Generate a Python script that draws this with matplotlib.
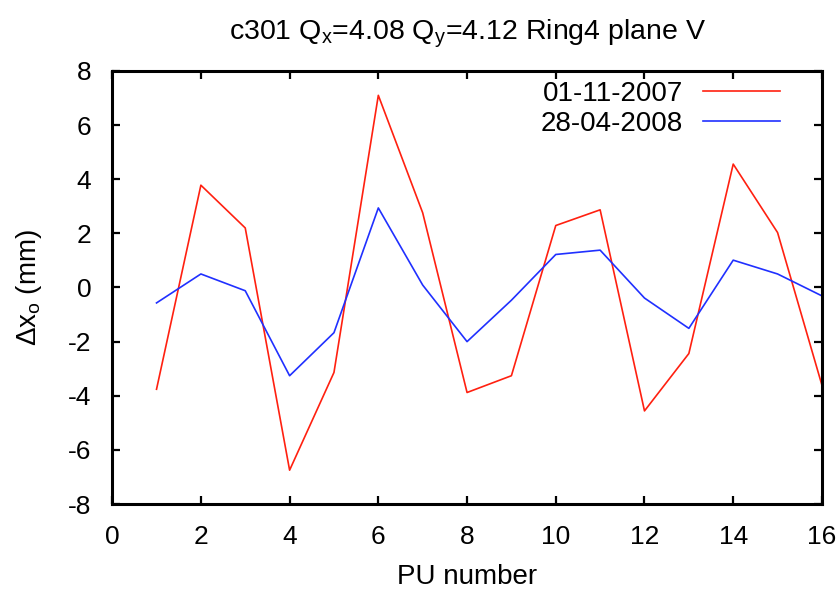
import matplotlib
matplotlib.use("Agg")
import matplotlib.pyplot as plt

pu = list(range(1, 17))
red_2007 = [-3.76, 3.78, 2.2, -6.75, -3.14, 7.1, 2.76, -3.88,
            -3.26, 2.29, 2.87, -4.56, -2.44, 4.56, 2.03, -3.61]
blue_2008 = [-0.57, 0.5, -0.12, -3.26, -1.67, 2.94, 0.09, -2.0,
             -0.47, 1.22, 1.38, -0.39, -1.51, 1.01, 0.5, -0.31]
labels = ["01-11-2007", "28-04-2008"]
xticks = list(range(0, 17, 2))
yticks = list(range(-8, 9, 2))

plt.rcParams['font.family'] = ['Liberation Sans', 'DejaVu Sans']
plt.rcParams['mathtext.fontset'] = 'custom'
plt.rcParams['mathtext.rm'] = 'Liberation Sans'
plt.rcParams['mathtext.it'] = 'Liberation Sans'
plt.rcParams['axes.unicode_minus'] = False

fig = plt.figure(figsize=(8.37, 5.94), dpi=100)
ax = fig.add_axes([0.134, 0.1515, 0.848, 0.729])

ax.plot(pu, red_2007, color='#ff2010', lw=1.2, label=labels[0])
ax.plot(pu, blue_2008, color='#2030ff', lw=1.2, label=labels[1])

ax.set_xlim(0, 16)
ax.set_ylim(-8, 8)
ax.set_xticks(xticks)
ax.set_yticks(yticks)
ax.tick_params(direction='in', length=6, width=1.6, top=True, right=True,
               labelsize=19)
ax.tick_params(axis='x', pad=15)
ax.tick_params(axis='y', pad=15)
for s in ax.spines.values():
    s.set_linewidth(2.2)

ax.set_xlabel("PU number", fontsize=20, labelpad=11)
ax.set_ylabel(r"$\Delta$x$_\mathregular{o}$ (mm)", fontsize=20, labelpad=17)
ax.set_title(r"c301 Q$_\mathregular{x}$=4.08 Q$_\mathregular{y}$=4.12 Ring4 plane V",
             fontsize=20.5, pad=23)

leg = ax.legend(loc='upper right', bbox_to_anchor=(0.941, 0.977),
                frameon=False, markerfirst=False, borderpad=0,
                borderaxespad=0, fontsize=20, handlelength=2.77,
                labelspacing=0.15, handletextpad=0.72)
for t in leg.get_texts():
    t.set_ha('right')

fig.savefig("out.png", dpi=100)
